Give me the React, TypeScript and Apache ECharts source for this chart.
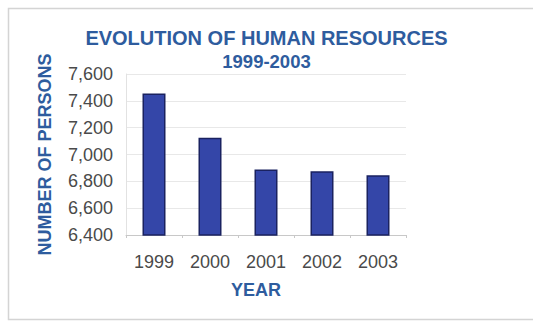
import React, { useEffect, useRef } from "react";
import * as echarts from "echarts";

const years = ["1999", "2000", "2001", "2002", "2003"];
const persons = [7455, 7125, 6888, 6875, 6846];
const yMin = 6400;
const yMax = 7600;
const yStep = 200;

const BLUE_TEXT = "#2e5c9e";
const FONT = "Liberation Sans, Arial, sans-serif";

export default function App() {
  const ref = useRef<HTMLDivElement>(null);

  useEffect(() => {
    if (!ref.current) return;
    const chart = echarts.init(ref.current, undefined, { renderer: "svg" });
    chart.setOption({
      animation: false,
      backgroundColor: "#ffffff",
      title: {
        text: "EVOLUTION OF HUMAN RESOURCES",
        subtext: "1999-2003",
        left: "center",
        top: 23,
        itemGap: 4,
        textStyle: {
          fontFamily: FONT,
          fontWeight: "bold",
          fontSize: 20,
          color: BLUE_TEXT,
        },
        subtextStyle: {
          fontFamily: FONT,
          fontWeight: "bold",
          fontSize: 18.5,
          color: BLUE_TEXT,
        },
      },
      graphic: [
        {
          type: "rect",
          shape: { x: 8.5, y: 8.5, width: 540, height: 311 },
          style: { fill: "none", stroke: "#d4d4d4", lineWidth: 1.5 },
          silent: true,
        },
      ],
      grid: { left: 126, right: 127, top: 74, bottom: 87 },
      xAxis: {
        type: "category",
        data: years,
        name: "YEAR",
        nameLocation: "middle",
        nameGap: 46,
        nameTextStyle: {
          fontFamily: FONT,
          fontWeight: "bold",
          fontSize: 18,
          color: BLUE_TEXT,
          padding: [0, 20, 0, 0],
        },
        axisLine: { lineStyle: { color: "#c8c8c8" } },
        axisTick: { show: true, length: 3, lineStyle: { color: "#c8c8c8" } },
        axisLabel: {
          margin: 18,
          fontFamily: FONT,
          fontSize: 18,
          color: "#4a4a4a",
        },
      },
      yAxis: {
        type: "value",
        min: yMin,
        max: yMax,
        interval: yStep,
        name: "NUMBER OF PERSONS",
        nameLocation: "middle",
        nameGap: 72,
        nameTextStyle: {
          fontFamily: FONT,
          fontWeight: "bold",
          fontSize: 18,
          color: BLUE_TEXT,
        },
        axisLine: { show: true, lineStyle: { color: "#e2e2e2" } },
        axisTick: { show: false },
        splitLine: { lineStyle: { color: "#e8e8e8" } },
        axisLabel: {
          margin: 13,
          fontFamily: FONT,
          fontSize: 18,
          color: "#4a4a4a",
          formatter: (v: number) => v.toLocaleString("en-US"),
        },
      },
      series: [
        {
          type: "bar",
          data: persons,
          barWidth: 23,
          itemStyle: {
            color: "#3446a8",
            borderColor: "#1a2260",
            borderWidth: 1.5,
          },
        },
      ],
    });
    return () => chart.dispose();
  }, []);

  return (
    <div
      ref={ref}
      style={{ position: "absolute", left: 0, top: 0, width: 533, height: 322 }}
    />
  );
}
